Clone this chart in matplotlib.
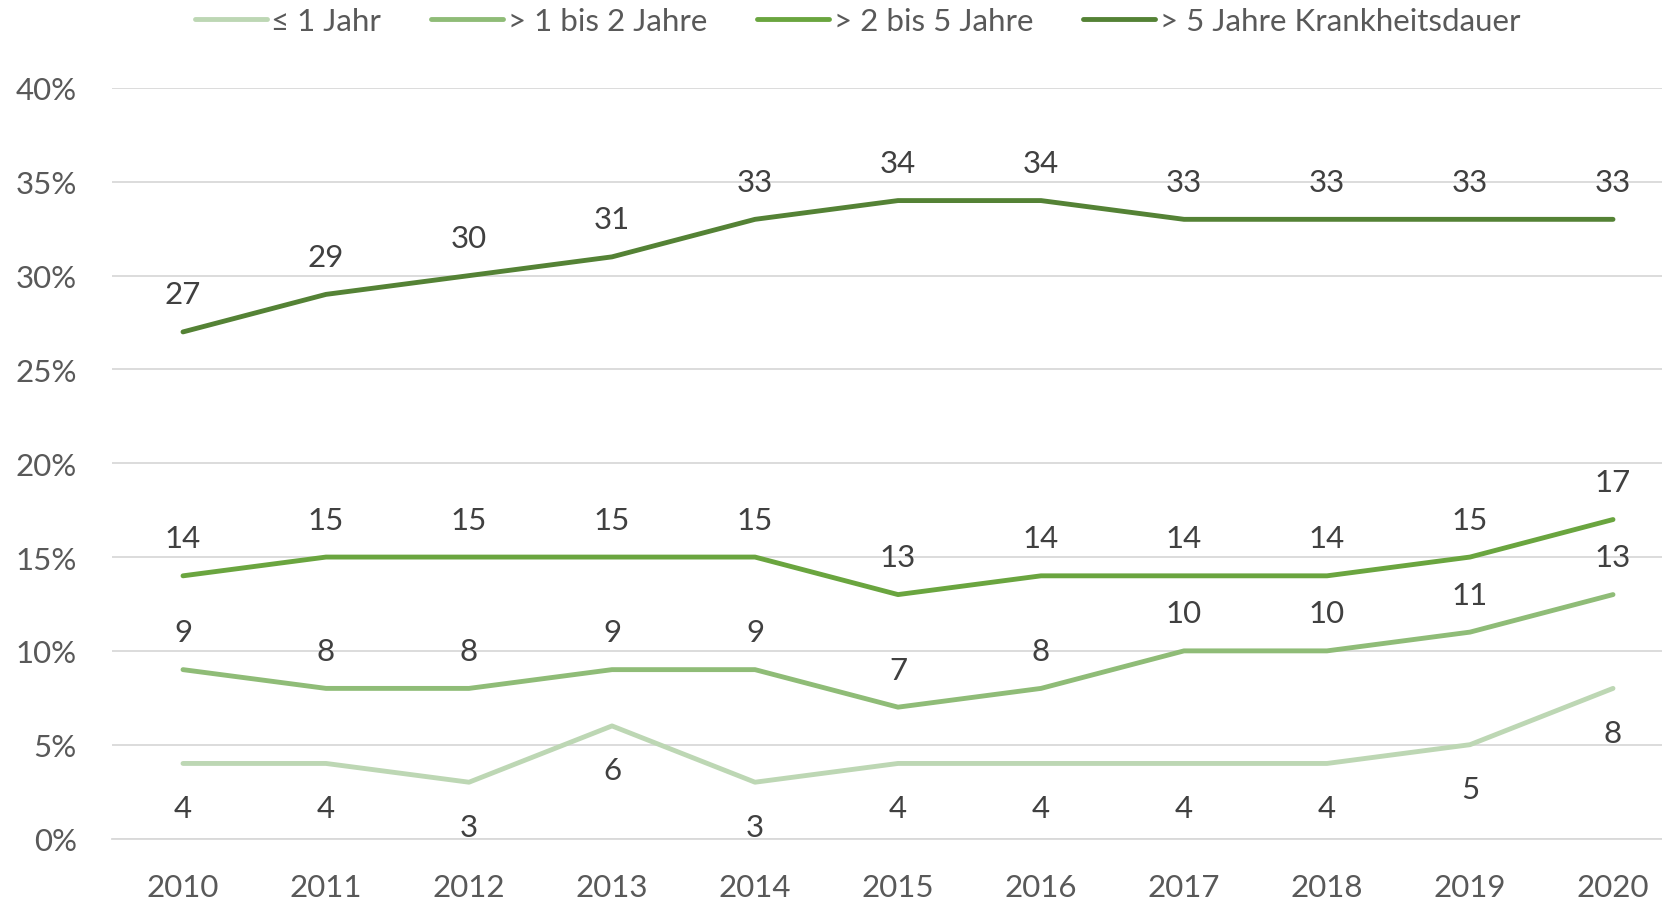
import matplotlib
matplotlib.use("Agg")
import matplotlib.pyplot as plt
from matplotlib.ticker import FuncFormatter, MultipleLocator

years = ["2010", "2011", "2012", "2013", "2014", "2015", "2016", "2017", "2018", "2019", "2020"]
series_names = ["≤ 1 Jahr", "> 1 bis 2 Jahre", "> 2 bis 5 Jahre", "> 5 Jahre Krankheitsdauer"]
le1 = [4, 4, 3, 6, 3, 4, 4, 4, 4, 5, 8]
b1_2 = [9, 8, 8, 9, 9, 7, 8, 10, 10, 11, 13]
b2_5 = [14, 15, 15, 15, 15, 13, 14, 14, 14, 15, 17]
gt5 = [27, 29, 30, 31, 33, 34, 34, 33, 33, 33, 33]
colors = ["#bdd7b4", "#8fbc77", "#6aa53f", "#548235"]
label_below = [True, False, False, False]

plt.rcParams['font.family'] = ['Lato', 'DejaVu Sans']

fig = plt.figure(figsize=(16.62, 9.04), dpi=100)
ax = fig.add_axes([111.5/1662, 1-839.5/904, (1684.5-111.5)/1662, (839.5-89)/904])

x = list(range(len(years)))
handles = []
for name, vals, col, below in zip(series_names, [le1, b1_2, b2_5, gt5], colors, label_below):
    h, = ax.plot(x, vals, color=col, lw=3.5, solid_capstyle='round', solid_joinstyle='round', label=name, zorder=3)
    handles.append(h)
    for xi, v in zip(x, vals):
        ax.annotate(str(v), (xi, v), xytext=(0, -32 if below else 27), textcoords='offset points',
                    ha='center', va='center', fontsize=22.5, color='#404040')

ax.set_xlim(-0.5, len(years) - 0.5)
ax.set_ylim(0, 40)
ax.yaxis.set_major_locator(MultipleLocator(5))
ax.yaxis.set_major_formatter(FuncFormatter(lambda v, p: f"{int(v)}%"))
ax.set_xticks(x)
ax.set_xticklabels(years)
ax.grid(axis='y', color='#d9d9d9', lw=1.3, zorder=0)
ax.set_axisbelow(True)
for s in ['top', 'right', 'left']:
    ax.spines[s].set_visible(False)
ax.spines['bottom'].set_color('#d9d9d9')
ax.spines['bottom'].set_linewidth(1.3)
ax.tick_params(axis='both', length=0, labelsize=22.5, labelcolor='#595959')
ax.tick_params(axis='y', pad=25)
ax.tick_params(axis='x', pad=25)

fig.legend(handles=handles, loc='center', bbox_to_anchor=(0.516, 1-22/904), ncol=4, frameon=False,
           fontsize=22.5, labelcolor='#595959', handlelength=2.3, handletextpad=0.15, columnspacing=1.6)

fig.savefig("out.png", dpi=100)
